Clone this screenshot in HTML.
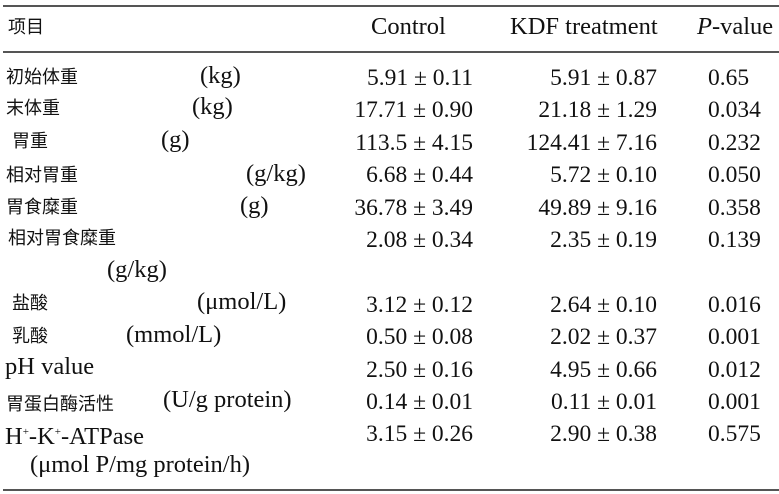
<!DOCTYPE html>
<html><head><meta charset="utf-8"><style>
body{margin:0;background:#fff;width:779px;height:494px;position:relative;overflow:hidden;font-family:"Liberation Serif",serif;color:#111}
.l{position:absolute;left:3px;width:776px;height:2px;background:#555}
.t{position:absolute;white-space:nowrap;font-size:24.5px;line-height:26px}
.c{font-family:"Liberation Sans","Noto Sans CJK SC",sans-serif;font-size:18px;color:#111}
.n{position:absolute;top:62px;font-size:23.5px;line-height:32.4px;white-space:nowrap}
</style></head><body>
<div class="l" style="top:5px"></div>
<div class="l" style="top:51px"></div>
<div class="l" style="top:489px"></div>
<div class="t c" style="left:8px;top:14px">项目</div>
<div class="t" style="left:371px;top:14px">Control</div>
<div class="t" style="left:510px;top:14px">KDF treatment</div>
<div class="t" style="left:697px;top:14px"><i>P</i>-value</div>

<div class="t c" style="left:6px;top:64px">初始体重</div><div class="t" style="left:200px;top:63px">(kg)</div>
<div class="t c" style="left:6px;top:95px">末体重</div><div class="t" style="left:192px;top:94px">(kg)</div>
<div class="t c" style="left:12px;top:128px">胃重</div><div class="t" style="left:161px;top:127px">(g)</div>
<div class="t c" style="left:6px;top:162px">相对胃重</div><div class="t" style="left:246px;top:161px">(g/kg)</div>
<div class="t c" style="left:6px;top:194px">胃食糜重</div><div class="t" style="left:240px;top:193px">(g)</div>
<div class="t c" style="left:8px;top:225px">相对胃食糜重</div>
<div class="t" style="left:107px;top:257px">(g/kg)</div>
<div class="t c" style="left:12px;top:290px">盐酸</div><div class="t" style="left:197px;top:289px">(μmol/L)</div>
<div class="t c" style="left:12px;top:323px">乳酸</div><div class="t" style="left:126px;top:322px">(mmol/L)</div>
<div class="t" style="left:5px;top:354px">pH value</div>
<div class="t c" style="left:6px;top:391px">胃蛋白酶活性</div><div class="t" style="left:163px;top:387px">(U/g protein)</div>
<div class="t" style="left:5px;top:419px">H<sup style="font-size:11px">+</sup>-K<sup style="font-size:11px">+</sup>-ATPase</div>
<div class="t" style="left:30px;top:452px">(μmol P/mg protein/h)</div>

<div class="n" style="right:306px;text-align:right">
5.91 ± 0.11<br>17.71 ± 0.90<br>113.5 ± 4.15<br>6.68 ± 0.44<br>36.78 ± 3.49<br>2.08 ± 0.34<br>&nbsp;<br>3.12 ± 0.12<br>0.50 ± 0.08<br>2.50 ± 0.16<br>0.14 ± 0.01<br>3.15 ± 0.26</div>
<div class="n" style="right:122px;text-align:right">
5.91 ± 0.87<br>21.18 ± 1.29<br>124.41 ± 7.16<br>5.72 ± 0.10<br>49.89 ± 9.16<br>2.35 ± 0.19<br>&nbsp;<br>2.64 ± 0.10<br>2.02 ± 0.37<br>4.95 ± 0.66<br>0.11 ± 0.01<br>2.90 ± 0.38</div>
<div class="n" style="left:708px">
0.65<br>0.034<br>0.232<br>0.050<br>0.358<br>0.139<br>&nbsp;<br>0.016<br>0.001<br>0.012<br>0.001<br>0.575</div>
</body></html>
